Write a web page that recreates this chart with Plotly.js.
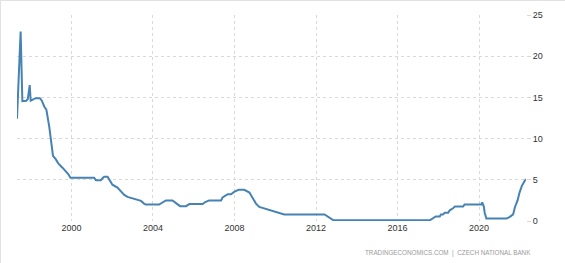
<!DOCTYPE html>
<html>
<head>
<meta charset="utf-8">
<script src="https://cdn.plot.ly/plotly-2.35.2.min.js"></script>
<style>
html,body{margin:0;padding:0;background:#fff;}
#wrap{width:564px;height:262px;border-top:1px solid #e2e2e2;border-left:1px solid #e2e2e2;}
#chart{width:564px;height:262px;}
</style>
</head>
<body>
<div id="wrap"><div id="chart"></div></div>
<script>
const dates = [
"1997-05-01","1997-07-05","1997-08-05","1997-10-15","1997-11-10","1997-12-15","1998-01-01","1998-04-01",
"1998-06-15","1998-07-20","1998-09-01","1998-10-10","1998-12-01","1999-01-01","1999-02-05","1999-03-25",
"1999-05-10","1999-07-20","1999-09-20","1999-11-05","1999-12-15","2001-02-10","2001-03-15","2001-06-10",
"2001-07-20","2001-08-10","2001-10-10","2001-11-05","2002-01-05","2002-04-05","2002-06-05","2002-08-05",
"2002-10-01","2003-01-01","2003-03-30","2003-06-01","2003-07-25","2003-08-25","2004-04-20","2004-06-15",
"2004-08-20","2004-12-15","2005-02-05","2005-03-15","2005-05-01","2005-08-15","2005-10-15","2006-06-10",
"2006-07-25","2006-10-05","2007-05-05","2007-06-01","2007-09-01","2007-10-30","2008-01-01","2008-03-15",
"2008-06-25","2008-09-25","2008-11-20","2009-01-20","2009-03-20","2009-06-20","2009-09-15","2010-01-15",
"2010-06-10","2012-06-01","2012-07-30","2012-11-10","2017-07-30","2017-09-20","2017-11-15","2018-01-25",
"2018-02-15","2018-03-25","2018-04-25","2018-06-25","2018-07-25","2018-09-20","2018-10-25","2019-03-20",
"2019-04-15","2020-02-10","2020-02-25","2020-03-25","2020-04-10","2020-05-10","2021-05-05","2021-07-05",
"2021-09-01","2021-10-05","2021-11-20","2021-12-25","2022-02-05","2022-03-20","2022-04-20"
];
const rates = [
12.4,23.0,14.55,14.6,14.8,16.5,14.6,14.9,
14.9,14.6,13.9,13.5,11.4,9.75,7.9,7.5,
7.0,6.5,6.1,5.7,5.25,5.25,4.95,4.95,
5.25,5.37,5.37,5.08,4.4,4.06,3.66,3.17,
2.93,2.72,2.52,2.44,2.11,2.0,2.0,2.25,
2.5,2.5,2.25,2.1,1.8,1.8,2.05,2.05,
2.3,2.5,2.5,2.85,3.25,3.25,3.57,3.78,
3.78,3.45,2.85,2.11,1.7,1.5,1.3,1.1,
0.8,0.8,0.5,0.08,0.08,0.3,0.55,0.55,
0.8,0.8,1.0,1.0,1.3,1.54,1.75,1.75,
2.0,2.0,2.25,1.75,1.0,0.3,0.3,0.5,
0.8,1.7,2.5,3.45,4.27,4.8,5.08
];
const yTicks = [0,5,10,15,20,25];
const xTickVals = ["2000-01-01","2004-01-01","2008-01-01","2012-01-01","2016-01-01","2020-01-01"];
const xTickText = ["2000","2004","2008","2012","2016","2020"];
const sourceText = "TRADINGECONOMICS.COM  |  CZECH NATIONAL BANK";

Plotly.newPlot('chart', [{
  x: dates, y: rates, type: 'scatter', mode: 'lines',
  line: {color: '#4682b4', width: 2},
  hoverinfo: 'skip'
}], {
  width: 564, height: 262,
  margin: {l: 16, r: 39, t: 14, b: 42},
  paper_bgcolor: '#fff', plot_bgcolor: '#fff',
  showlegend: false,
  font: {family: 'Liberation Sans, Arial, sans-serif', size: 9, color: '#333'},
  xaxis: {
    type: 'date',
    range: ["1997-05-01", "2022-04-20"],
    tickmode: 'array', tickvals: xTickVals, ticktext: xTickText,
    showgrid: true, gridcolor: '#d9d9d9', griddash: 'dot', gridwidth: 1,
    zeroline: false, showline: false, ticks: '',
    tickfont: {size: 9, color: '#333'}
  },
  yaxis: {
    side: 'right', range: [0, 25],
    tickmode: 'array', tickvals: yTicks,
    showgrid: true, gridcolor: '#d9d9d9', griddash: 'dot', gridwidth: 1,
    zeroline: false, showline: false,
    ticks: 'outside', ticklen: 4, tickcolor: '#d9d9d9',
    tickfont: {size: 9, color: '#333'}
  },
  annotations: [{
    xref: 'paper', yref: 'paper', x: 1.014, y: -0.155, xanchor: 'right', yanchor: 'middle',
    text: sourceText, showarrow: false,
    font: {size: 6.3, color: '#9a9a9a'}
  }]
}, {staticPlot: true, displayModeBar: false});
</script>
</body>
</html>
